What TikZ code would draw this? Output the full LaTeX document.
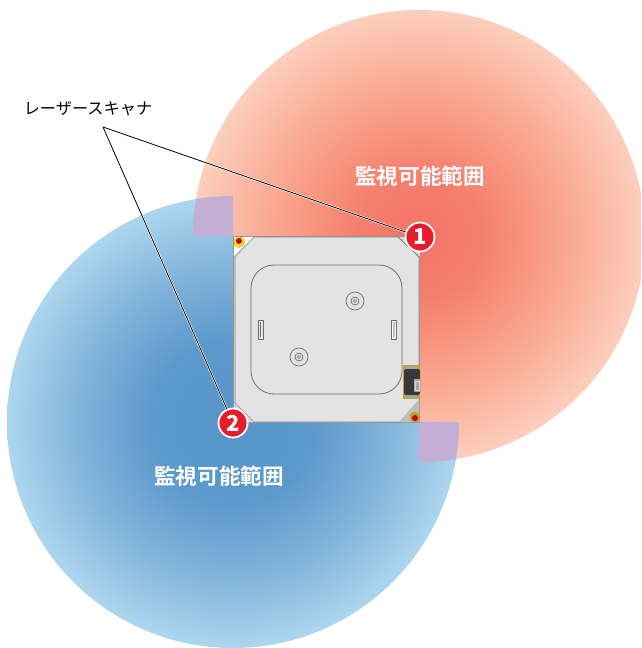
\documentclass[tikz,border=0pt]{standalone}
\usepackage{fontspec}
\setmainfont{Noto Sans CJK JP}
\newfontfamily\cjkbold[BoldFont=Noto Sans CJK JP Bold]{Noto Sans CJK JP}
\usetikzlibrary{calc}
\pgfdeclareradialshading{redfade}{\pgfpoint{0bp}{0bp}}{rgb(0bp)=(0.95,0.45,0.40);rgb(7bp)=(0.96,0.50,0.43);rgb(16.5bp)=(0.98,0.66,0.57);rgb(25.5bp)=(0.99,0.82,0.75);rgb(50bp)=(0.99,0.82,0.75)}
\pgfdeclareradialshading{bluefade}{\pgfpoint{0bp}{0bp}}{rgb(0bp)=(0.34,0.58,0.79);rgb(9bp)=(0.36,0.60,0.80);rgb(17.5bp)=(0.52,0.71,0.86);rgb(25.5bp)=(0.69,0.85,0.94);rgb(50bp)=(0.69,0.85,0.94)}
\definecolor{overlapc}{RGB}{196,174,214}
\definecolor{bodyc}{RGB}{227,227,227}
\definecolor{edgec}{RGB}{150,150,150}
\definecolor{panelc}{RGB}{190,190,190}
\definecolor{linec}{RGB}{110,110,110}
\definecolor{badge}{RGB}{230,27,43}
\definecolor{goldc}{RGB}{190,165,50}
\tikzset{
  zonelabel/.style={text=white,font=\fontsize{21.6}{24}\selectfont\bfseries,inner sep=0pt},
  calllabel/.style={text=black,font=\fontsize{16.2}{18}\selectfont,inner sep=0pt},
  numbadge/.style={circle,fill=badge,draw=white,line width=1.8pt,minimum size=29pt,inner sep=0pt,text=white,font=\fontsize{22}{24}\selectfont\bfseries},
  leaderhalo/.style={white,line width=2pt},
  leader/.style={black,line width=0.8pt},
  partline/.style={draw=linec,line width=0.8pt},
}
\begin{document}
\begin{tikzpicture}[x=1pt,y=-1pt]
\useasboundingbox (0,0) rectangle (641,648);
\fill[white] (0,0) rectangle (641,648);
% red zone
\begin{scope}
\clip (0,0) rectangle (641,236) (419,0) rectangle (641,648);
\shade[shading=redfade] (419,236) circle[radius=226];
\end{scope}
% blue zone
\begin{scope}
\clip (0,0) rectangle (233,648) (0,422) rectangle (641,648);
\shade[shading=bluefade] (233,422) circle[radius=226];
\end{scope}
% overlaps
\begin{scope}
\clip (419,236) circle[radius=226];
\clip (233,422) circle[radius=226];
\fill[overlapc] (150,150) rectangle (233,236);
\fill[overlapc] (419,422) rectangle (500,500);
\end{scope}
% vehicle
\fill[panelc] (233,236) rectangle (420,423);
\fill[bodyc] (254,238) -- (400,238) -- (418,256) -- (418,400) -- (400,421) -- (254,421) -- (236,403) -- (236,257) -- cycle;
\draw[edgec,line width=1pt] (233.5,236.5) rectangle (419.5,422.5);
\fill[white] (234,237) -- (254,237) -- (234,257) -- cycle;
\draw[edgec,line width=.6pt] (254,237) -- (234,257);
\fill[panelc!60!white] (400,237) -- (420,237) -- (420,257) -- cycle;
\draw[linec,line width=.6pt] (398,237) -- (419,257);
\fill[panelc!60!white] (234,402) -- (254,422) -- (234,422) -- cycle;
\draw[edgec,line width=.6pt] (234,402) -- (254,422);
\draw[partline] (274,265) -- (379,265) arc[start angle=-90,end angle=0,radius=23] -- (402,371) arc[start angle=0,end angle=90,radius=23] -- (274,394) arc[start angle=90,end angle=180,radius=23] -- (251,288) arc[start angle=180,end angle=270,radius=23] -- cycle;
\foreach \cx/\cy in {355/301,299/357}{
  \draw[linec,line width=.7pt] (\cx,\cy) circle[radius=9];
  \draw[linec,line width=.7pt] (\cx,\cy) circle[radius=4];
  \fill[linec!60!white] (\cx,\cy) circle[radius=2];
}
\draw[linec,fill=bodyc!90!white,line width=.6pt] (258,320) rectangle (263,339);
\draw[linec,fill=white,line width=.6pt] (391,320) rectangle (396,339);
\draw[linec,line width=.6pt] (260.5,322) -- (260.5,337);
\fill[panelc] (393,322) rectangle (395,337);
% sensor
\fill[goldc] (403,364.5) rectangle (420,399);
\fill[gray!70] (405,366) rectangle (417,397.5);
\fill[black!78,rounded corners=2pt] (404,369) rectangle (420,395);
\fill[gray!70] (414,379) rectangle (420,392);
\draw[gray!30,line width=.6pt] (415,381) rectangle (419,390);
% corner units
\fill[panelc] (419,400) -- (419,422) -- (399,422) -- cycle;
\fill[goldc] (415,417) circle[radius=5.5];
\fill[red!80!black] (415,418) circle[radius=3];
\fill[yellow!85!orange] (239,242) circle[radius=5.5];
\draw[edgec,line width=.4pt] (239,242) circle[radius=5.5];
\fill[red!80!black] (239,241) circle[radius=3];
% labels
\node[zonelabel] (zoneA) at (420,176) {\cjkbold\bfseries 監視可能範囲};
\node[zonelabel] (zoneB) at (219,476) {\cjkbold\bfseries 監視可能範囲};
\node[calllabel] (caller) at (88,109) {レーザースキャナ};
\coordinate (apex) at (103,127);
\node[numbadge] (n1) at (420,237) {1};
\node[numbadge] (n2) at (233,423) {2};
\draw[leaderhalo] (apex) -- (n1);
\draw[leaderhalo] (apex) -- (n2);
\draw[leader] (apex) -- (n1);
\draw[leader] (apex) -- (n2);
\end{tikzpicture}
\end{document}
